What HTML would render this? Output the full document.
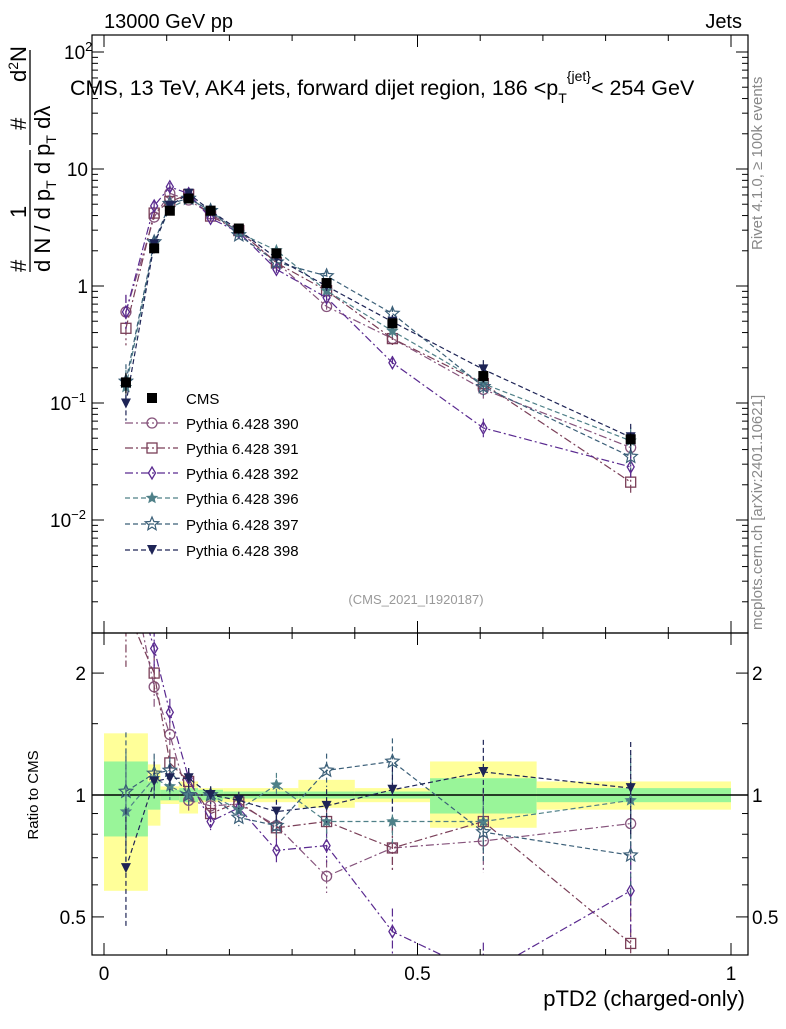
<!DOCTYPE html>
<html><head><meta charset="utf-8"><style>
body{margin:0;background:#fff;font-family:"Liberation Sans",sans-serif}
svg text{font-family:"Liberation Sans",sans-serif}
</style></head><body>
<svg id="c" width="786" height="1024" viewBox="0 0 786 1024" xmlns="http://www.w3.org/2000/svg">
<text x="104" y="28" font-size="20">13000 GeV pp</text>
<text x="742" y="28" font-size="20" text-anchor="end">Jets</text>
<text x="70" y="95" font-size="21.5">CMS, 13 TeV, AK4 jets, forward dijet region, 186 &lt;p<tspan font-size="14" dy="8">T</tspan><tspan font-size="14" dy="-22">{jet}</tspan><tspan dy="14">&lt; 254 GeV</tspan></text>
<g>
<text transform="translate(50,272) rotate(-90)" font-size="22">d N / d p<tspan font-size="14" dy="6">T</tspan><tspan dy="-6">  d p</tspan><tspan font-size="14" dy="6">T</tspan><tspan dy="-6"> dλ</tspan></text>
<line x1="30" x2="30" y1="272" y2="150" stroke="#000" stroke-width="1.3"/>
<line x1="30" x2="30" y1="145" y2="50" stroke="#000" stroke-width="1.3"/>
<text transform="translate(26,272) rotate(-90)" font-size="22">#</text>
<text transform="translate(26,218) rotate(-90)" font-size="22">1</text>
<text transform="translate(26,130) rotate(-90)" font-size="22">#</text>
<text transform="translate(26,82) rotate(-90)" font-size="22">d<tspan font-size="14" dy="-8">2</tspan><tspan dy="8">N</tspan></text>
</g>
<text transform="translate(762,250) rotate(-90)" font-size="15" fill="#888">Rivet 4.1.0, ≥ 100k events</text>
<text transform="translate(762,630) rotate(-90)" font-size="15" fill="#888">mcplots.cern.ch [arXiv:2401.10621]</text>
<text x="416" y="604" font-size="13" fill="#999" text-anchor="middle">(CMS_2021_I1920187)</text>
<text transform="translate(38,795) rotate(-90)" font-size="15" text-anchor="middle">Ratio to CMS</text>
<text x="745" y="1006" font-size="22" text-anchor="end">pTD2 (charged-only)</text>
<g id="g"></g>
</svg>
<script>
const xs=[0.035,0.08,0.105,0.135,0.17,0.215,0.275,0.355,0.46,0.605,0.84];
const edges=[0,0.07,0.09,0.12,0.15,0.19,0.24,0.31,0.40,0.52,0.69,1.0];
const cms=[0.15,2.1,4.4,5.6,4.4,3.1,1.9,1.06,0.48,0.17,0.049];
const cmsErr=[0.03,0.2,0.3,0.3,0.2,0.1,0.08,0.05,0.03,0.02,0.006];
const statHi=[1.21,1.08,1.03,1.04,1.03,1.02,1.02,1.02,1.02,1.10,1.04];
const statLo=[0.79,0.92,0.97,0.96,0.97,0.98,0.98,0.98,0.98,0.90,0.96];
const totHi=[1.42,1.19,1.05,1.08,1.04,1.04,1.04,1.09,1.04,1.21,1.08];
const totLo=[0.58,0.84,0.95,0.90,0.96,0.96,0.96,0.93,0.96,0.83,0.92];
const r390=[4.0,1.85,1.41,0.97,0.94,0.95,0.84,0.63,0.74,0.77,0.85];
const r391=[2.9,2.0,1.2,1.08,0.9,0.96,0.83,0.86,0.74,0.86,0.43];
const r392=[4.0,2.3,1.6,1.1,0.86,0.93,0.73,0.75,0.46,0.36,0.58];
const r396=[0.91,1.1,1.05,1.0,1.0,0.92,1.06,0.86,0.86,0.86,0.97];
const r397=[1.02,1.13,1.15,1.0,1.0,0.88,0.84,1.15,1.21,0.81,0.71];
const r398=[0.66,1.08,1.1,1.1,1.0,0.97,0.91,0.94,1.03,1.14,1.04];
const relErr=[0.4,0.12,0.08,0.06,0.05,0.05,0.07,0.1,0.14,0.2,0.3];
const names=["Pythia 6.428 390","Pythia 6.428 391","Pythia 6.428 392","Pythia 6.428 396","Pythia 6.428 397","Pythia 6.428 398"];
const ratios=[r390,r391,r392,r396,r397,r398];
const cols=['#86547c','#7a3f58','#5a2a90','#4f8088','#3b5f78','#1e2456'];
const dashes=['8,3,2,3','8,3,2,3','8,3,2,3','5,3','5,3','5,3'];
const marks=['circle','square','diamond','star','bigstar','tri'];
const NS='http://www.w3.org/2000/svg',G=document.getElementById('g');
const X0=92,X1=748,T0=35,T1=633,B1=955;
const sx=v=>104+627*v;
const sy=v=>286-117*Math.log10(v);
const ry=v=>795-405*Math.log10(v);
function el(t,a,p){const e=document.createElementNS(NS,t);for(const k in a)e.setAttribute(k,a[k]);(p||G).appendChild(e);return e;}
const defs=el('defs',{});
const c1=el('clipPath',{id:'ct'},defs);el('rect',{x:X0,y:T0,width:X1-X0,height:T1-T0},c1);
const c2=el('clipPath',{id:'cb'},defs);el('rect',{x:X0,y:T1,width:X1-X0,height:B1-T1},c2);
const gb=el('g',{'clip-path':'url(#cb)'});


for(let i=0;i<xs.length;i++){
 const a=sx(edges[i]),b=sx(edges[i+1]);
 const y1=el('rect',{x:a,y:ry(totHi[i]),width:b-a,height:ry(totLo[i])-ry(totHi[i]),fill:'#ffff99'},gb);
 
 
 const g1=el('rect',{x:a,y:ry(statHi[i]),width:b-a,height:ry(statLo[i])-ry(statHi[i]),fill:'#99f599'},gb);
 
 
}
el('line',{x1:X0,x2:X1,y1:ry(1),y2:ry(1),stroke:'#000','stroke-width':1.5},gb);
const gt=el('g',{'clip-path':'url(#ct)'});


function marker(p,kind,x,y,c){
 let e;
 if(kind=='circle')e=el('circle',{cx:x,cy:y,r:5,fill:'none',stroke:c,'stroke-width':1.3},p);
 else if(kind=='square')e=el('rect',{x:x-5,y:y-5,width:10,height:10,fill:'none',stroke:c,'stroke-width':1.3},p);
 else if(kind=='diamond')e=el('path',{d:`M${x},${y-6}L${x+3.5},${y}L${x},${y+6}L${x-3.5},${y}Z`,fill:'none',stroke:c,'stroke-width':1.3},p);
 else if(kind=='tri')e=el('path',{d:`M${x-5},${y-5}L${x+5},${y-5}L${x},${y+5}Z`,fill:c},p);
 else if(kind=='cms')e=el('rect',{x:x-5,y:y-5,width:10,height:10,fill:'#000'},p);
 else{const R=kind=='star'?5:7,r=R*0.45;let d='';for(let k=0;k<10;k++){const rr=k%2?r:R,an=-Math.PI/2+k*Math.PI/5;d+=(k?'L':'M')+(x+rr*Math.cos(an)).toFixed(1)+','+(y+rr*Math.sin(an)).toFixed(1);}
 e=el('path',{d:d+'Z',fill:kind=='star'?c:'none',stroke:c,'stroke-width':1.2},p);}
 return e;
}
ratios.forEach((r,s)=>{
 const c=cols[s];
 const gs=el('g',{},gt);
 
 
 const gr=el('g',{},gb);
 
 
 let d='',dr='';
 xs.forEach((x,i)=>{const v=cms[i]*r[i];d+=(i?'L':'M')+sx(x)+','+sy(v);dr+=(i?'L':'M')+sx(x)+','+ry(r[i]);});
 el('path',{d:d,fill:'none',stroke:c,'stroke-width':1.2,'stroke-dasharray':dashes[s]},gs);
 el('path',{d:dr,fill:'none',stroke:c,'stroke-width':1.2,'stroke-dasharray':dashes[s]},gr);
 xs.forEach((x,i)=>{
  const v=cms[i]*r[i],e=relErr[i];
  el('line',{x1:sx(x),x2:sx(x),y1:sy(v*(1+e)),y2:sy(v/(1+e)),stroke:c,'stroke-width':1.2,'stroke-dasharray':dashes[s]},gs);
  el('line',{x1:sx(x),x2:sx(x),y1:ry(r[i]*(1+e)),y2:ry(r[i]/(1+e)),stroke:c,'stroke-width':1.2,'stroke-dasharray':dashes[s]},gr);
  const m=marker(gs,marks[s],sx(x),sy(v),c);
  
  
  const m2=marker(gr,marks[s],sx(x),ry(r[i]),c);
  
  
 });
});
xs.forEach((x,i)=>{
 el('line',{x1:sx(x),x2:sx(x),y1:sy(cms[i]+cmsErr[i]),y2:sy(cms[i]-cmsErr[i]),stroke:'#000','stroke-width':1.2},gt);
 const m=marker(gt,'cms',sx(x),sy(cms[i]),'#000');
 
 
});
el('rect',{x:X0,y:T0,width:X1-X0,height:T1-T0,fill:'none',stroke:'#000','stroke-width':1.2});
el('rect',{x:X0,y:T1,width:X1-X0,height:B1-T1,fill:'none',stroke:'#000','stroke-width':1.2});
const decades=[-3,-2,-1,0,1,2];
decades.forEach(dd=>{for(let m=1;m<10;m++){const v=m*Math.pow(10,dd),y=sy(v);if(y<T0||y>T1)continue;const L=m==1?12:6;
 el('line',{x1:X0,x2:X0+L,y1:y,y2:y,stroke:'#000'});el('line',{x1:X1,x2:X1-L,y1:y,y2:y,stroke:'#000'});}});
const tl=[[2,'10','2'],[1,'10',''],[0,'1',''],[-1,'10','−1'],[-2,'10','−2']];
tl.forEach(t=>{const y=sy(Math.pow(10,t[0]));const tx=el('text',{x:t[2]?72:84,y:y+7,'font-size':19,'text-anchor':t[2]?'start':'end'});
 
 
 if(!t[2]){tx.setAttribute('x',88);tx.textContent=t[1];}else{tx.setAttribute('x',t[0]==2?64:50);tx.textContent=t[1];const s=el('tspan',{dy:-8,'font-size':13},tx);s.textContent=t[2];}});
[0.5,0.6,0.7,0.8,0.9,1,1.5,2].forEach(v=>{const y=ry(v),L=(v==0.5||v==1||v==2)?12:6;
 el('line',{x1:X0,x2:X0+L,y1:y,y2:y,stroke:'#000'});el('line',{x1:X1,x2:X1-L,y1:y,y2:y,stroke:'#000'});});
[[2,'2'],[1,'1'],[0.5,'0.5']].forEach(t=>{const y=ry(t[0])+7;
 const a=el('text',{x:86,y:y,'font-size':19,'text-anchor':'end'});a.textContent=t[1];
 
 
 const b=el('text',{x:752,y:y,'font-size':19});b.textContent=t[1];
 
 });
for(let k=0;k<=10;k++){const v=k/10,x=sx(v),L=k%5==0?12:6;
 el('line',{x1:x,x2:x,y1:T1,y2:T1-L,stroke:'#000'});el('line',{x1:x,x2:x,y1:T0,y2:T0+L,stroke:'#000'});
 el('line',{x1:x,x2:x,y1:B1,y2:B1-L,stroke:'#000'});el('line',{x1:x,x2:x,y1:T1,y2:T1+L,stroke:'#000'});
 if(k%5==0){const t=el('text',{x:x,y:980,'font-size':19,'text-anchor':'middle'});t.textContent=['0','0.5','1'][k/5];
 
 }}
const lg=el('g',{});


const ly=[398,423,448,473,498,524,550];
marker(lg,'cms',152,ly[0],'#000');
let t0=el('text',{x:186,y:ly[0]+6,'font-size':15},lg);t0.textContent='CMS';
names.forEach((n,s)=>{const y=ly[s+1];
 el('line',{x1:125,x2:178,y1:y,y2:y,stroke:cols[s],'stroke-width':1.2,'stroke-dasharray':dashes[s]},lg);
 marker(lg,marks[s],152,y,cols[s]);
 const t=el('text',{x:186,y:y+6,'font-size':15},lg);t.textContent=n;
 
 });
</script>
</body></html>
